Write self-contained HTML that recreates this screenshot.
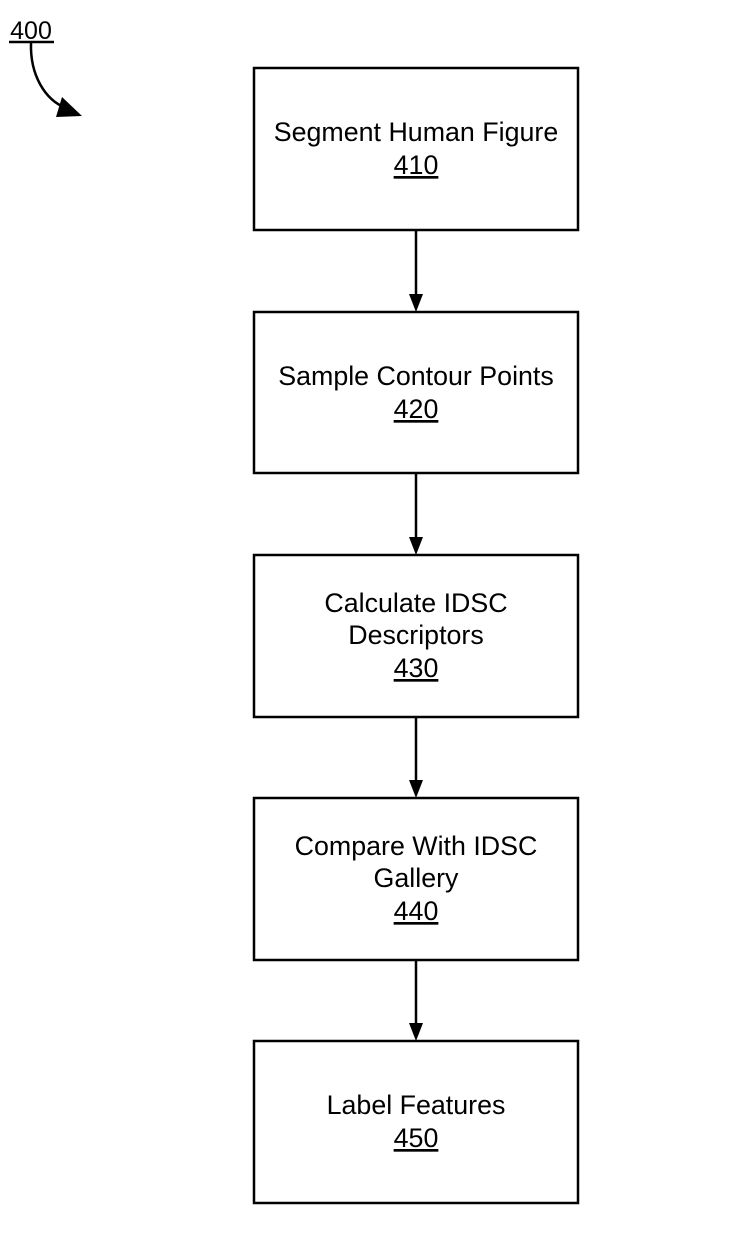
<!DOCTYPE html>
<html><head><style>body{margin:0;background:#fff}svg{display:block}</style></head><body>
<svg width="730" height="1245" viewBox="0 0 730 1245" xmlns="http://www.w3.org/2000/svg" font-family="Liberation Sans, Arial, sans-serif" font-size="26.8" text-anchor="middle" fill="#000">
<text x="31" y="39" font-size="25">400</text>
<line x1="9" y1="42" x2="54" y2="42" stroke="#000" stroke-width="2.5"/>
<path d="M31,43 C30,75 45,100 66,108" fill="none" stroke="#000" stroke-width="2.5"/>
<path d="M62,97 L82,116 L56,117 Z"/>
<g fill="none" stroke="#000" stroke-width="2.5">
<rect x="254" y="68" width="324" height="162"/>
<rect x="254" y="312" width="324" height="161"/>
<rect x="254" y="555" width="324" height="162"/>
<rect x="254" y="798" width="324" height="162"/>
<rect x="254" y="1041" width="324" height="162"/>
<line x1="416" y1="230" x2="416" y2="296"/>
<line x1="416" y1="473" x2="416" y2="539"/>
<line x1="416" y1="717" x2="416" y2="782"/>
<line x1="416" y1="960" x2="416" y2="1025"/>
</g>
<path d="M409,294 L423,294 L416,312 Z"/>
<path d="M409,537 L423,537 L416,555 Z"/>
<path d="M409,780 L423,780 L416,798 Z"/>
<path d="M409,1023 L423,1023 L416,1041 Z"/>
<text x="416" y="141">Segment Human Figure</text>
<text x="416" y="174" text-decoration="underline">410</text>
<text x="416" y="385">Sample Contour Points</text>
<text x="416" y="418" text-decoration="underline">420</text>
<text x="416" y="612">Calculate IDSC</text>
<text x="416" y="644">Descriptors</text>
<text x="416" y="677" text-decoration="underline">430</text>
<text x="416" y="855">Compare With IDSC</text>
<text x="416" y="887">Gallery</text>
<text x="416" y="920" text-decoration="underline">440</text>
<text x="416" y="1114">Label Features</text>
<text x="416" y="1147" text-decoration="underline">450</text>
</svg>
</body></html>
